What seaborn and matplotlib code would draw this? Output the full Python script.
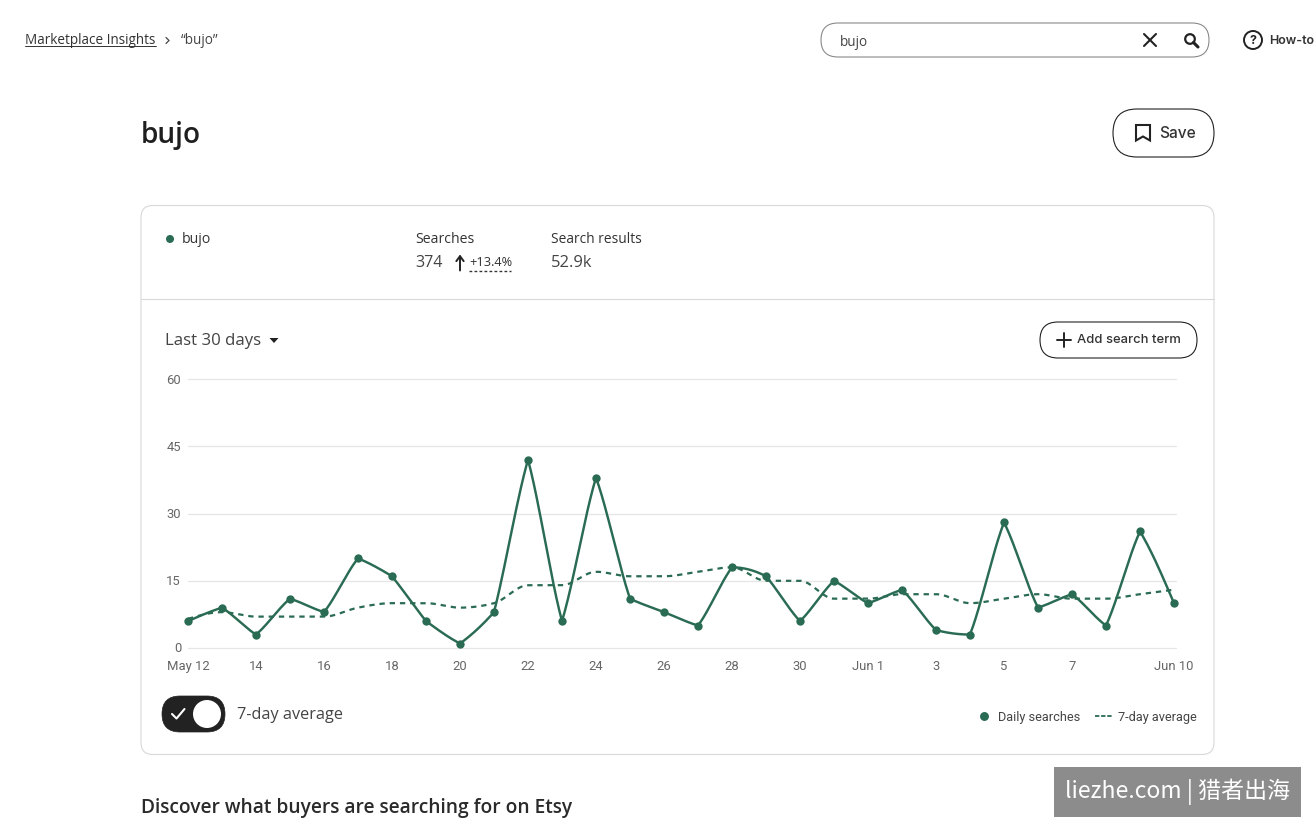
import numpy as np
import pandas as pd
import seaborn as sns
import matplotlib
matplotlib.use("Agg")
import matplotlib.pyplot as plt
from matplotlib.lines import Line2D
from matplotlib.patches import FancyBboxPatch, Circle, Polygon, Rectangle
from matplotlib.transforms import ScaledTranslation

# Daily search counts, May 12 through Jun 10
day_index = list(range(30))
daily_searches = [6, 9, 3, 11, 8, 20, 16, 6, 1, 8, 42, 6, 38, 11, 8,
                  5, 18, 16, 6, 15, 10, 13, 4, 3, 28, 9, 12, 5, 26, 10]
seven_day_avg = [6.5, 8, 7, 7, 7, 9, 10, 10, 9, 10, 14, 14, 17, 16, 16,
                 17, 18, 15, 15, 11, 11, 12, 12, 10, 11, 12, 11, 11, 12, 13]
x_tick_days = [0, 2, 4, 6, 8, 10, 12, 14, 16, 18, 20, 22, 24, 26, 29]
x_tick_labels = ["May 12", "14", "16", "18", "20", "22", "24", "26", "28",
                 "30", "Jun 1", "3", "5", "7", "Jun 10"]
y_ticks = [0, 15, 30, 45, 60]

W, H = 1315, 829
GREEN = "#2a6b54"
INK = "#222222"
UI = "Inter"
BODY = "Open Sans"


def monotone_curve(xs, ys, straight_bend=1.0, per_segment=24):
    """Monotone cubic path through the points (d3 curveMonotoneX).

    Segments rising or falling by more than 2 are pulled toward a straight
    chord by straight_bend (1 keeps the full curve, 0 gives a straight line).
    """
    xs = np.asarray(xs, float)
    ys = np.asarray(ys, float)
    h = np.diff(xs)
    s = np.diff(ys) / h
    t = np.zeros_like(ys)
    p = (s[:-1] * h[1:] + s[1:] * h[:-1]) / (h[:-1] + h[1:])
    t[1:-1] = (np.sign(s[:-1]) + np.sign(s[1:])) * np.minimum.reduce(
        [np.abs(s[:-1]), np.abs(s[1:]), 0.5 * np.abs(p)])
    t[0] = (3 * s[0] - t[1]) / 2
    t[-1] = (3 * s[-1] - t[-2]) / 2
    out_x, out_y = [], []
    for i in range(len(h)):
        u = np.linspace(0, 1, per_segment, endpoint=False)
        a = 2 * u**3 - 3 * u**2 + 1
        b = u**3 - 2 * u**2 + u
        c = -2 * u**3 + 3 * u**2
        d = u**3 - u**2
        bent = a * ys[i] + b * h[i] * t[i] + c * ys[i + 1] + d * h[i] * t[i + 1]
        chord = ys[i] + u * (ys[i + 1] - ys[i])
        k = 1.0 if abs(ys[i + 1] - ys[i]) <= 2 else straight_bend
        out_x.append(xs[i] + u * h[i])
        out_y.append(k * bent + (1 - k) * chord)
    return np.r_[np.concatenate(out_x), xs[-1]], np.r_[np.concatenate(out_y), ys[-1]]


def px(size):
    return size * 0.72


sns.set_theme(style="white")
plt.rcParams["font.family"] = [UI, "Noto Sans CJK SC", "DejaVu Sans"]

fig = plt.figure(figsize=(W / 100, H / 100), dpi=100, facecolor="white")

# Page furniture lives on a full-figure canvas measured in pixels
page = fig.add_axes([0, 0, 1, 1], zorder=0)
page.set_xlim(0, W)
page.set_ylim(H - 1, -1)
page.axis("off")


def label(x, y, s, size=13, color=INK, weight="normal", ha="left", family=BODY, **kw):
    return page.text(x, y, s, fontsize=px(size), color=color, fontweight=weight,
                     ha=ha, va="center", family=family, **kw)


def pill(x0, y0, x1, y1, radius, ec="#222222", lw=0.8, fc="white", z=1):
    page.add_patch(FancyBboxPatch((x0 + radius, y0 + radius),
                                  x1 - x0 - 2 * radius, y1 - y0 - 2 * radius,
                                  boxstyle=f"round,pad={radius},rounding_size={radius}",
                                  ec=ec, fc=fc, lw=lw, zorder=z))


# Breadcrumb
label(25, 40, "Marketplace Insights", size=13.5, color="#333333")
page.plot([25, 156], [46, 46], color="#333333", lw=0.7)
page.plot([166, 169, 166], [37.5, 40.5, 43.5], color="#444444", lw=0.9)
label(181, 40, "“bujo”", size=13.5, color="#444444")

# Search field
pill(821, 23, 1209, 57, 17, ec="#8a8a8a", lw=0.8)
label(840, 41, "bujo", size=13.5, color="#444444")
page.plot([1144, 1156], [34, 46], color=INK, lw=1.5)
page.plot([1156, 1144], [34, 46], color=INK, lw=1.5)
page.add_patch(Circle((1190, 39), 4.8, fc="none", ec=INK, lw=1.6))
page.plot([1193.5, 1198], [42.5, 47], color=INK, lw=2.2)

# How-to link, cut off by the right edge
page.add_patch(Circle((1253, 40), 9, fc="white", ec=INK, lw=1.4))
label(1253, 40, "?", size=12.5, weight="bold", ha="center", family=UI)
label(1269, 39.5, "How-to", size=12.5, weight="semibold", color="#333333", family=UI)

# Heading and save button
label(141, 134, "bujo", size=28, weight="semibold", color="#1f1f1f")
pill(1113, 109, 1214, 157, 24)
page.add_patch(Polygon([[1136, 125], [1150, 125], [1150, 140.5], [1143, 136.5], [1136, 140.5]],
                       closed=True, fc="white", ec=INK, lw=1.5))
label(1159, 132.5, "Save", size=15.5, weight="medium", color="#333333", family=UI)

# Card with its summary strip
pill(141, 205.5, 1214, 754.5, 12, ec="#d8d8d8", lw=0.8)
page.plot([141, 1214], [299, 299], color="#d8d8d8", lw=0.8, zorder=2)
page.add_patch(Circle((170, 239), 4, fc=GREEN, ec="none", zorder=2))
label(182, 238.5, "bujo", size=14, color="#333333")
label(415.5, 238.5, "Searches", size=14, color="#333333")
label(551, 238.5, "Search results", size=13.8, color="#333333")
label(415.5, 262, "374", size=16, color="#444444")
page.annotate("", xy=(460, 254.5), xytext=(460, 270.5),
              arrowprops=dict(arrowstyle="->,head_width=0.22,head_length=0.3", color=INK, lw=1.4,
                              shrinkA=0, shrinkB=0))
label(469, 262, "+13.4%", size=12.8, color="#333333")
page.plot([469, 511], [270.5, 270.5], color="#333333", lw=1.0, linestyle=(0, (2, 1.6)))
label(551, 262, "52.9k", size=16.5, color="#444444")

# Controls above the plot
label(165, 340, "Last 30 days", size=16.8, color="#444444")
page.add_patch(Polygon([[269.5, 338], [278.5, 338], [274, 343]], closed=True, fc=INK, ec="none"))
pill(1040, 322, 1197, 358, 18)
page.plot([1057, 1071], [340, 340], color=INK, lw=1.4)
page.plot([1064, 1064], [333, 347], color=INK, lw=1.4)
label(1077, 339.5, "Add search term", size=13, weight="medium", color="#333333", family=UI)

# Average toggle
pill(162, 696, 225, 732, 18, ec="#222222", fc="#222222", lw=0.5)
page.add_patch(Circle((207, 714), 14, fc="white", ec="none", zorder=3))
page.plot([172, 176.5, 184.5], [714, 718.5, 709], color="white", lw=1.5, zorder=3)
label(237, 714, "7-day average", size=16.2, color="#444444")

# Next section heading
label(141, 807.5, "Discover what buyers are searching for on Etsy", size=19.1, weight="semibold",
      color="#2a2a2a")

# Site stamp in the lower right corner
page.add_patch(Rectangle((1054, 767), 247, 50, fc="#8c8c8c", ec="none", zorder=4))
page.text(1177.5, 790.5, "liezhe.com | 猎者出海", fontsize=px(23), color="white", ha="center",
          va="center", family=["Noto Sans CJK SC", "DejaVu Sans"], fontweight="light", zorder=5)

# Plot area: the first and last days sit at x = 188 and x = 1174 px
plot_left, plot_right, plot_top, plot_bottom = 188, 1176, 380, 649
ax = fig.add_axes([plot_left / W, 1 - plot_bottom / H,
                   (plot_right - plot_left) / W, (plot_bottom - plot_top) / H], zorder=2)
ax.patch.set_alpha(0)

curve_x, curve_y = monotone_curve(day_index, daily_searches, straight_bend=0.22)
avg_x, avg_y = monotone_curve(day_index, seven_day_avg)
sns.lineplot(x=avg_x, y=avg_y, ax=ax, color=GREEN, linewidth=1.6,
             linestyle=(0, (2.4, 2.2)), clip_on=False, zorder=3)
sns.lineplot(x=curve_x, y=curve_y, ax=ax, color=GREEN, linewidth=1.75, clip_on=False, zorder=4)
sns.scatterplot(x=day_index, y=daily_searches, ax=ax, color=GREEN, s=36, linewidth=0,
                clip_on=False, zorder=5)

ax.set_xlim(0, 29 * (plot_right - plot_left) / (1174 - plot_left))
ax.set_ylim(0, 60)
ax.set_xticks(x_tick_days, x_tick_labels)
ax.set_yticks(y_ticks)
ax.grid(axis="y", color="#e6e6e6", linewidth=0.9, clip_on=False)
ax.grid(axis="x", visible=False)
ax.set_axisbelow(True)
sns.despine(ax=ax, left=True, bottom=True, top=True, right=True)
ax.tick_params(axis="both", length=0, labelsize=px(13), labelcolor="#666666")
ax.tick_params(axis="x", pad=8)
ax.tick_params(axis="y", pad=5)
for tick in ax.get_xticklabels() + ax.get_yticklabels():
    tick.set_family("Roboto")

# Value labels sit slightly above their gridlines
lift = ScaledTranslation(0, 1.5 / 100, fig.dpi_scale_trans)
for tick in ax.get_yticklabels():
    tick.set_transform(tick.get_transform() + lift)

handles = [
    Line2D([], [], color=GREEN, marker="o", markersize=5.4, linestyle="none", label="Daily searches"),
    Line2D([], [], color=GREEN, lw=1.3, linestyle=(0, (2.4, 1.0)), label="7-day average"),
]
legend = ax.legend(handles=handles, ncols=2, frameon=False, loc="center right",
                   bbox_to_anchor=(1199 / W, 1 - 718 / H), bbox_transform=fig.transFigure,
                   prop={"family": "Roboto", "size": px(12.8)}, labelcolor="#444444",
                   handlelength=1.3, handletextpad=0.45, columnspacing=1.15, borderpad=0.2,
                   borderaxespad=0)

fig.savefig("out.png", dpi=100, facecolor="white")
